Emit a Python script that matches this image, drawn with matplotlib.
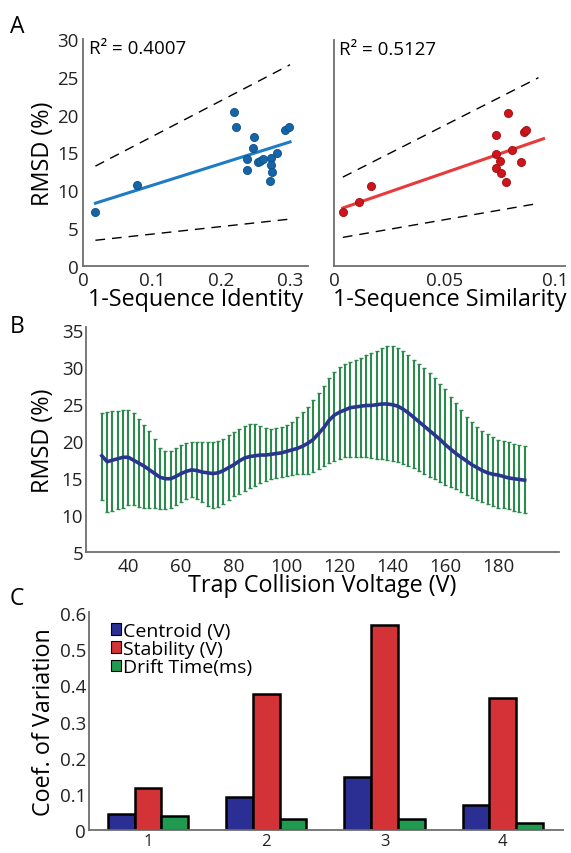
import matplotlib
matplotlib.use("Agg")
import matplotlib.pyplot as plt
from matplotlib.patches import Patch
import numpy as np

plt.rcParams['font.family'] = ['Open Sans', 'DejaVu Sans']

# ---------------- Panel A data ----------------
ident_x = [0.018, 0.078, 0.219, 0.221, 0.237, 0.237, 0.246, 0.248, 0.253, 0.257,
           0.261, 0.272, 0.272, 0.274, 0.271, 0.281, 0.293, 0.299]
ident_y = [7.2, 10.7, 20.4, 18.4, 14.2, 12.7, 15.6, 17.0, 13.7, 13.9,
           14.2, 14.3, 13.4, 12.4, 11.2, 15.0, 18.0, 18.4]
ident_fit_x = [0.018, 0.300]
ident_fit_y = [8.3, 16.4]
ident_upper_y = [13.2, 26.6]
ident_lower_y = [3.4, 6.2]
ident_r2 = "R² = 0.4007"

sim_x = [0.004, 0.0112, 0.0166, 0.0734, 0.0734, 0.0734, 0.0751, 0.0754,
         0.0776, 0.0787, 0.0806, 0.0846, 0.0861, 0.0869]
sim_y = [7.2, 8.5, 10.6, 17.4, 14.9, 13.0, 14.0, 12.3,
         11.2, 20.3, 15.4, 13.8, 17.8, 18.0]
sim_fit_x = [0.004, 0.0948]
sim_fit_y = [7.7, 16.9]
sim_upper_x = [0.004, 0.0925]
sim_upper_y = [11.8, 25.0]
sim_lower_x = [0.004, 0.0903]
sim_lower_y = [3.8, 8.2]
sim_r2 = "R² = 0.5127"

# ---------------- Panel B data ----------------
voltage = list(range(30, 192, 2))
rmsd_mean = [18.0, 17.2, 17.4, 17.6, 17.8, 17.8, 17.4, 17.0, 16.6, 16.1,
             15.6, 15.1, 14.9, 14.9, 15.2, 15.6, 15.9, 16.1, 16.0, 15.8,
             15.7, 15.6, 15.7, 16.0, 16.4, 16.8, 17.3, 17.7, 17.9, 18.0,
             18.1, 18.1, 18.2, 18.3, 18.4, 18.6, 18.8, 19.0, 19.3, 19.7,
             20.2, 21.0, 21.8, 22.8, 23.5, 23.9, 24.2, 24.5, 24.6, 24.7,
             24.8, 24.8, 24.9, 25.0, 25.0, 24.9, 24.7, 24.3, 23.8, 23.2,
             22.6, 22.0, 21.4, 20.8, 20.2, 19.5, 18.9, 18.3, 17.8, 17.3,
             16.8, 16.4, 16.0, 15.7, 15.5, 15.4, 15.2, 15.0, 14.9, 14.8,
             14.7]
rmsd_upper = [23.8, 23.9, 24.0, 24.1, 24.2, 24.2, 23.8, 23.0, 22.2, 21.3,
              20.3, 19.0, 18.6, 18.6, 19.0, 19.4, 19.7, 19.8, 19.8, 19.8,
              19.8, 19.9, 20.0, 20.3, 20.8, 21.2, 21.6, 22.0, 22.3, 22.3,
              22.0, 21.7, 21.6, 21.7, 21.9, 22.2, 22.6, 23.2, 23.9, 24.6,
              25.5, 26.5, 27.4, 28.5, 29.3, 30.0, 30.4, 30.7, 31.0, 31.2,
              31.6, 31.9, 32.2, 32.5, 32.9, 32.8, 32.5, 32.1, 31.6, 31.0,
              30.4, 29.8, 29.2, 28.5, 27.7, 27.0, 26.0, 25.1, 24.2, 23.2,
              22.5, 21.9, 21.4, 21.0, 20.6, 20.2, 20.0, 19.8, 19.6, 19.4,
              19.3]
rmsd_lower = [12.0, 10.4, 10.5, 10.8, 11.0, 11.3, 11.3, 11.1, 11.0, 11.0,
              10.9, 10.8, 10.8, 11.0, 11.4, 11.8, 12.1, 12.4, 12.2, 11.7,
              11.2, 11.0, 11.1, 11.5, 12.0, 12.5, 12.9, 13.3, 13.6, 13.9,
              14.3, 14.6, 14.9, 15.0, 15.2, 15.3, 15.4, 15.5, 15.5, 15.6,
              15.8, 16.2, 16.6, 17.0, 17.3, 17.6, 17.8, 17.9, 17.9, 17.9,
              17.8, 17.7, 17.6, 17.5, 17.4, 17.3, 17.1, 16.9, 16.6, 16.3,
              15.9, 15.5, 15.2, 14.9, 14.5, 14.1, 13.8, 13.5, 13.1, 12.7,
              12.3, 12.0, 11.7, 11.5, 11.2, 11.0, 10.9, 10.8, 10.6, 10.4,
              10.3]

# ---------------- Panel C data ----------------
groups = ["1", "2", "3", "4"]
series_names = ["Centroid (V)", "Stability (V)", "Drift Time(ms)"]
centroid = [0.045, 0.092, 0.147, 0.068]
stability = [0.116, 0.377, 0.566, 0.364]
drift = [0.039, 0.030, 0.030, 0.018]

# ---------------- styling ----------------
W, H = 571, 854
fig = plt.figure(figsize=(W / 100, H / 100), dpi=100)

def ax_at(x0, y0, x1, y1):
    return fig.add_axes([x0 / W, 1 - y1 / H, (x1 - x0) / W, (y1 - y0) / H])

spine_col = "#6e6e6e"
tick_fs = 13.5
label_fs = 16.8

def style(ax):
    for s in ["top", "right"]:
        ax.spines[s].set_visible(False)
    for s in ["left", "bottom"]:
        ax.spines[s].set_color(spine_col)
        ax.spines[s].set_linewidth(1.3)
    ax.tick_params(length=0, labelsize=tick_fs, colors="#222222", pad=2)
    ax.tick_params(axis="x", pad=3.5)

blue_pt = "#1565a8"
blue_ln = "#1f7cc4"
red_pt = "#d0141b"
red_ln = "#e8393b"

# A left
axA1 = ax_at(83, 40, 308, 267)
style(axA1)
axA1.tick_params(axis="y", pad=3)
axA1.plot(ident_fit_x, ident_fit_y, color=blue_ln, lw=2.2, zorder=2)
axA1.plot(ident_fit_x, ident_upper_y, color="black", lw=1.0, dashes=(7, 5))
axA1.plot(ident_fit_x, ident_lower_y, color="black", lw=1.0, dashes=(7, 5))
axA1.scatter(ident_x, ident_y, s=34, color=blue_pt, edgecolor="#0d4f86",
             linewidth=0.6, zorder=3)
axA1.set_xlim(0, 0.326)
axA1.set_ylim(0, 30)
axA1.set_xticks([0, 0.1, 0.2, 0.3])
axA1.set_xticklabels(["0", "0.1", "0.2", "0.3"])
axA1.set_yticks([0, 5, 10, 15, 20, 25, 30])
axA1.set_xlabel("1-Sequence Identity", fontsize=label_fs, labelpad=-1)
axA1.set_ylabel("RMSD (%)", fontsize=label_fs, labelpad=2)
axA1.text(0.025, 1.0, ident_r2, transform=axA1.transAxes, fontsize=13.5,
          ha="left", va="top")

# A right
axA2 = ax_at(334, 41, 565, 267)
style(axA2)
axA2.plot(sim_fit_x, sim_fit_y, color=red_ln, lw=2.2, zorder=2)
axA2.plot(sim_upper_x, sim_upper_y, color="black", lw=1.0, dashes=(7, 5))
axA2.plot(sim_lower_x, sim_lower_y, color="black", lw=1.0, dashes=(7, 5))
axA2.scatter(sim_x, sim_y, s=34, color=red_pt, edgecolor="#9a0d10",
             linewidth=0.6, zorder=3)
axA2.set_xlim(0, 0.1045)
axA2.set_ylim(0, 30)
axA2.set_xticks([0, 0.05, 0.1])
axA2.set_xticklabels(["0", "0.05", "0.1"])
axA2.set_yticks([])
axA2.set_xlabel("1-Sequence Similarity", fontsize=label_fs, labelpad=-1)
axA2.text(0.02, 1.0, sim_r2, transform=axA2.transAxes, fontsize=13.5,
          ha="left", va="top")

# B
axB = ax_at(86, 328, 559, 553)
style(axB)
v = np.array(voltage)
m = np.array(rmsd_mean)
axB.errorbar(v, m, yerr=[m - np.array(rmsd_lower), np.array(rmsd_upper) - m],
             fmt="none", ecolor="#2b8a4c", elinewidth=1.5, capsize=1.6,
             capthick=1.0, zorder=2)
axB.plot(v, m, color="#2a3590", lw=2.6, zorder=3)
axB.set_xlim(24, 203)
axB.set_ylim(5, 35.4)
axB.set_xticks(range(40, 181, 20))
axB.set_yticks(range(5, 36, 5))
axB.set_xlabel("Trap Collision Voltage (V)", fontsize=label_fs, labelpad=-1)
axB.set_ylabel("RMSD (%)", fontsize=label_fs, labelpad=5)

# C
axC = ax_at(89, 613, 563, 831)
style(axC)
pos = np.arange(1, len(groups) + 1)
bw = 0.226
cols = ["#2b2f94", "#d33236", "#1f9a4f"]
for i, (vals, c, nm) in enumerate(zip([centroid, stability, drift], cols, series_names)):
    axC.bar(pos + (i - 1) * bw, vals, width=bw, color=c, edgecolor="black",
            linewidth=1.8, label=nm, zorder=2)
axC.set_xlim(0.5, 4.51)
axC.set_ylim(0, 0.603)
axC.set_xticks(pos)
axC.set_xticklabels(groups, fontsize=12)
axC.tick_params(axis="x", pad=2)
axC.set_yticks([0, 0.1, 0.2, 0.3, 0.4, 0.5, 0.6])
axC.set_yticklabels(["0", "0.1", "0.2", "0.3", "0.4", "0.5", "0.6"])
axC.set_ylabel("Coef. of Variation", fontsize=label_fs, labelpad=3)
handles = [Patch(facecolor=c, edgecolor="black", linewidth=0.8) for c in cols]
axC.legend(handles, series_names, loc="upper left", bbox_to_anchor=(0.025, 1.0),
           frameon=False, fontsize=14, handlelength=0.55, handleheight=0.55,
           handletextpad=0.1, labelspacing=0.02, borderaxespad=0.1)

# panel letters
fig.text(10 / W, 1 - 33 / H, "A", fontsize=16.5)
fig.text(10 / W, 1 - 333 / H, "B", fontsize=16.5)
fig.text(10 / W, 1 - 605 / H, "C", fontsize=16.5)

fig.savefig("out.png", dpi=100)
